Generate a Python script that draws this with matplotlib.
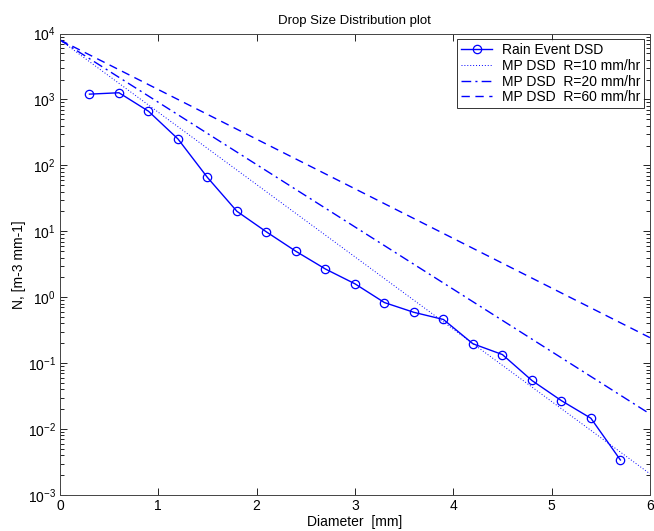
import numpy as np
import matplotlib
matplotlib.use("Agg")
from matplotlib import pyplot as plt
from matplotlib.ticker import LogLocator, NullFormatter

plt.rcParams['font.family'] = ['Liberation Sans', 'DejaVu Sans']
plt.rcParams['font.size'] = 9
plt.rcParams['axes.unicode_minus'] = False

# measured rain event drop size distribution
diam = [0.3, 0.6, 0.9, 1.2, 1.5, 1.8, 2.1, 2.4, 2.7, 3.0,
        3.3, 3.6, 3.9, 4.2, 4.5, 4.8, 5.1, 5.4, 5.7]
n_rain = [1205, 1265, 664, 252, 65.6, 20.1, 9.8, 4.97, 2.68, 1.6,
          0.83, 0.59, 0.46, 0.197, 0.135, 0.0546, 0.027, 0.0146, 0.0034]

# Marshall-Palmer lines, read at both ends of the axis (straight on log scale)
mp_d = [0, 6]
mp_r10 = [8000, 0.0021]
mp_r20 = [8000, 0.017]
mp_r60 = [8000, 0.244]

blue = '#0000ff'

fig = plt.figure(figsize=(6.54, 5.31), dpi=100)
ax = fig.add_axes([0.0917, 0.0678, 0.902, 0.869])

ax.plot(diam, n_rain, '-o', color=blue, lw=1.0, ms=6, mfc='none', mew=0.9,
        label='Rain Event DSD')
ax.plot(mp_d, mp_r10, ':', color=blue, lw=0.7, dashes=(1, 2),
        label='MP DSD  R=10 mm/hr')
ax.plot(mp_d, mp_r20, '-.', color=blue, lw=1.0, dashes=(7, 3, 1.5, 3),
        label='MP DSD  R=20 mm/hr')
ax.plot(mp_d, mp_r60, '--', color=blue, lw=1.0, dashes=(6, 4),
        label='MP DSD  R=60 mm/hr')

ax.set_yscale('log')
ax.set_xlim(0, 6)
ax.set_ylim(1e-3, 1e4)
ax.set_xticks(range(7))
ax.yaxis.set_major_locator(LogLocator(base=10, numticks=20))
ax.yaxis.set_minor_locator(LogLocator(base=10, subs=np.arange(2, 10), numticks=20))
ax.yaxis.set_minor_formatter(NullFormatter())
ax.tick_params(which='both', direction='in', top=True, right=True, width=0.6)
ax.tick_params(which='major', length=5, labelsize=10, pad=3)
ax.tick_params(which='minor', length=3)
for s in ax.spines.values():
    s.set_linewidth(0.7)
    s.set_color('#444444')

ax.set_title('Drop Size Distribution plot', fontsize=9.5, pad=7)
ax.set_xlabel('Diameter  [mm]', fontsize=10, labelpad=1)
ax.set_ylabel('N, [m-3 mm-1]', fontsize=10, labelpad=1)

leg = ax.legend(loc='upper right', fancybox=False, edgecolor='black',
                fontsize=10, handlelength=2.2, borderaxespad=0.4,
                labelspacing=0.12, handletextpad=0.7, borderpad=0.3)
leg.get_frame().set_linewidth(0.7)

fig.savefig('out.png', dpi=100)
